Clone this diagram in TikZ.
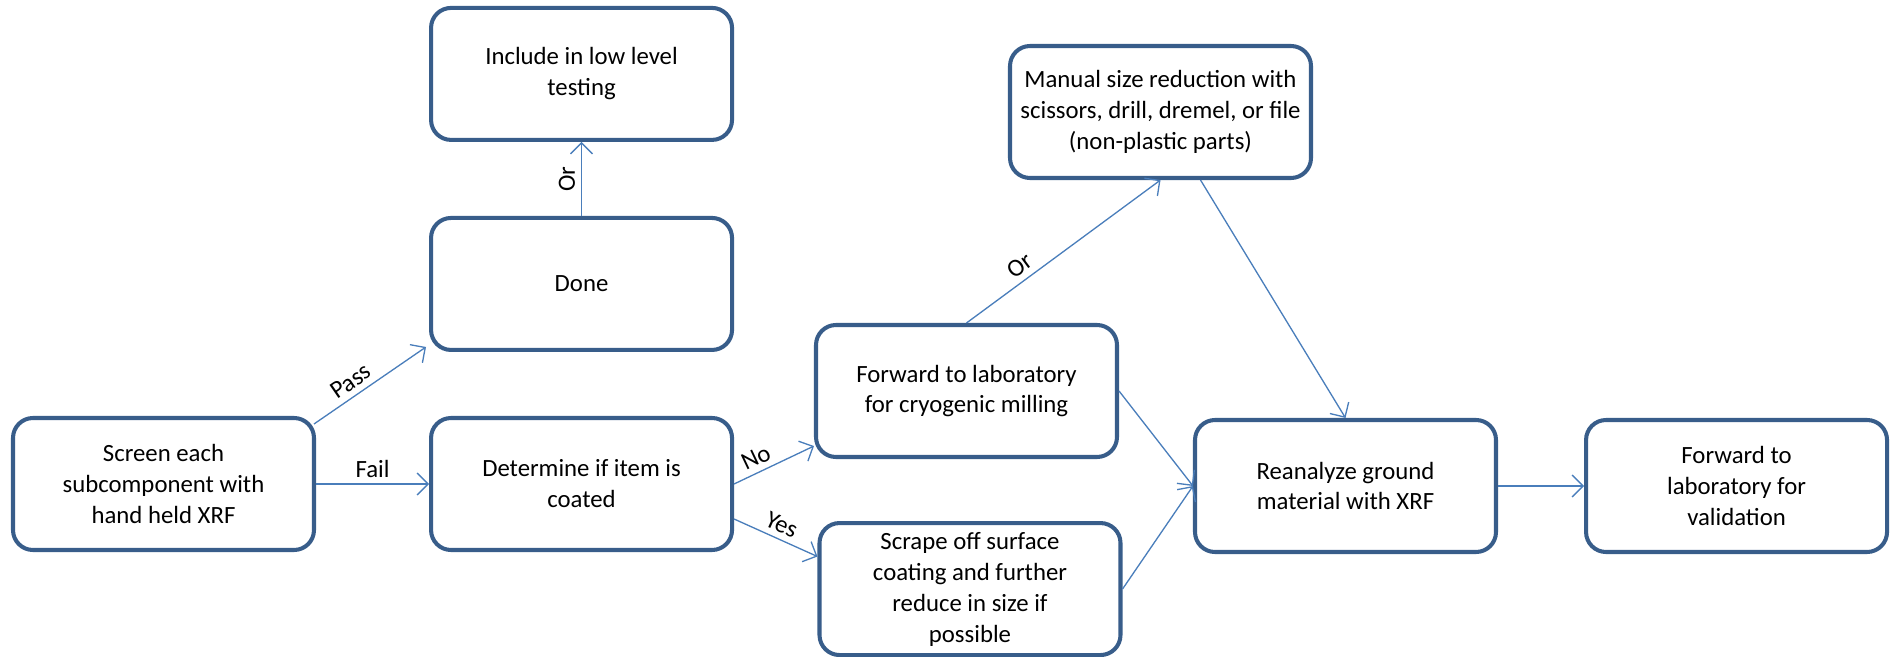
\documentclass[tikz,border=0pt]{standalone}
\usepackage{fontspec}
\setmainfont{Carlito}
\usepackage{tikz}
\usetikzlibrary{positioning, arrows.meta}
\definecolor{boxblue}{HTML}{385D8A}
\definecolor{lineblue}{HTML}{4A7EBB}

\begin{document}
\begin{tikzpicture}[font=\fontsize{14.1}{17.6}\selectfont,
roundbox/.style={rectangle, rounded corners=0.4cm, draw=boxblue, fill=white, line width=2.3pt, minimum width=6.02cm, minimum height=2.64cm, inner sep=0pt, align=center},
linkline/.style={->, draw=lineblue, line width=0.75pt},
>={Straight Barb[length=2.2mm, width=4.4mm]},
]
\useasboundingbox (0,0) rectangle (37.92,-13.14);
%Nodes
\node[roundbox]      (screen)     at (3.27,-9.68)                 {Screen each\\subcomponent with\\hand held XRF};
\node[roundbox]      (determine)  [right=2.26cm of screen]         {Determine if item is\\coated};
\node[roundbox]      (done)       [above=1.28cm of determine]      {Done};
\node[roundbox]      (include)    [above=1.48cm of done]           {Include in low level\\testing};
\node[roundbox]      (cryo)       at (19.33,-7.82)                 {Forward to laboratory\\for cryogenic milling};
\node[roundbox]      (scrape)     [below=1.24cm of cryo, xshift=0.07cm] {Scrape off surface\\coating and further\\reduce in size if\\possible};
\node[roundbox]      (manual)     at (23.21,-2.24)                 {Manual size reduction with\\scissors, drill, dremel, or file\\(non-plastic parts)};
\node[roundbox]      (reanalyze)  at (26.91,-9.72)                 {Reanalyze ground\\material with XRF};
\node[roundbox]      (validation) [right=1.72cm of reanalyze]      {Forward to\\laboratory for\\validation};

%Lines
\draw[linkline] ([xshift=-0.04cm, yshift=-0.16cm]screen.north east) -- node[pos=0.4, above, sloped] {Pass} ([xshift=-0.06cm, yshift=0.1cm]done.south west);
\draw[linkline] (screen) -- node[above] {Fail} (determine);
\draw[linkline] (done) -- node[midway, above, sloped] {Or} (include);
\draw[linkline] (determine.east) -- node[pos=0.35, above, sloped] {No} ([yshift=0.26cm]cryo.south west);
\draw[linkline] ([yshift=-0.7cm]determine.east) -- node[midway, above, sloped] {Yes} ([yshift=0.65cm]scrape.west);
\draw[linkline] (cryo.north) -- node[pos=0.32, above, sloped] {Or} (manual.south);
\draw[linkline] ([xshift=0.8cm]manual.south) -- (reanalyze.north);
\draw[linkline] (cryo.east) -- (reanalyze.west);
\draw[linkline] (scrape.east) -- (reanalyze.west);
\draw[linkline] (reanalyze) -- (validation);
\end{tikzpicture}
\end{document}
